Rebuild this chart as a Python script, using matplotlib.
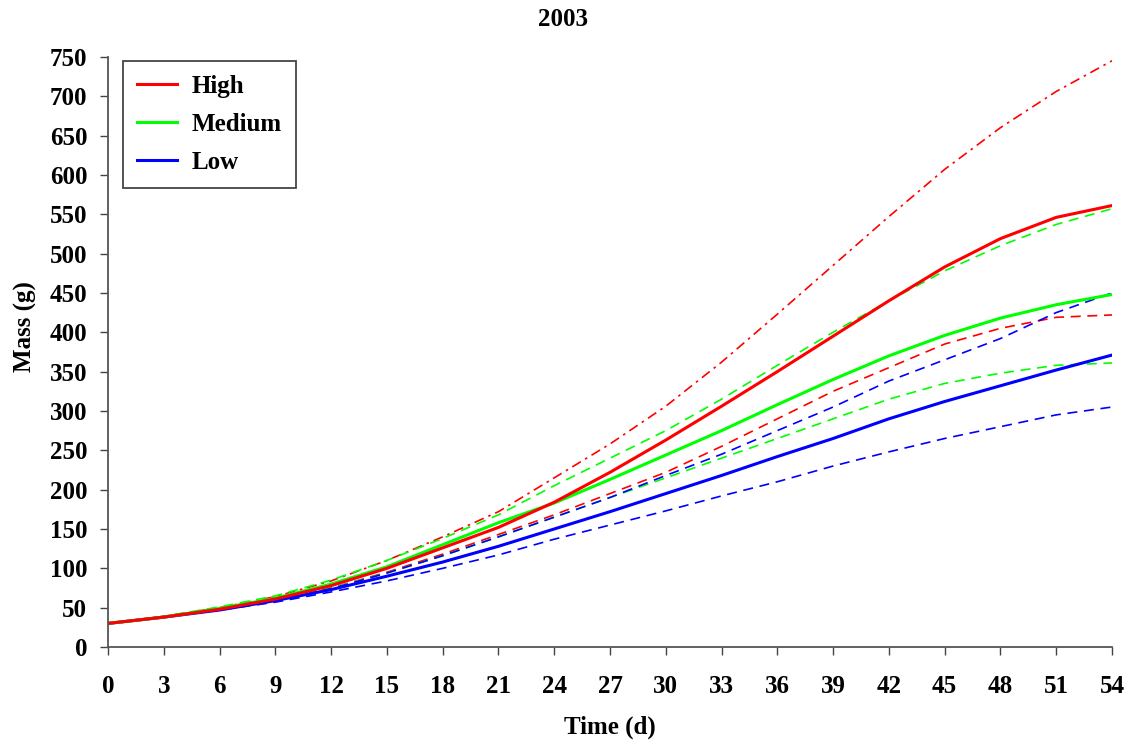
import numpy as np
import matplotlib.pyplot as plt

plt.rcParams['font.family'] = ['Liberation Serif', 'DejaVu Serif']
plt.rcParams['font.weight'] = 'bold'

days = [0, 3, 6, 9, 12, 15, 18, 21, 24, 27, 30, 33, 36, 39, 42, 45, 48, 51, 54]

# High
high = [30, 38, 48, 61, 78, 100, 126, 152, 184, 222, 263, 306, 350, 395, 440, 483, 519, 546, 561]
high_up = [30, 39, 50, 64, 84, 110, 140, 172, 215, 258, 306, 362, 423, 485, 547, 607, 660, 706, 745]
high_lo = [30, 38, 48, 60, 75, 95, 118, 143, 168, 195, 222, 255, 290, 325, 355, 385, 405, 419, 422]

# Medium
med = [30, 38, 49, 62, 80, 102, 130, 158, 183, 213, 244, 275, 308, 340, 370, 396, 418, 435, 448]
med_up = [30, 39, 51, 65, 85, 110, 138, 168, 205, 240, 275, 315, 358, 400, 440, 478, 510, 537, 557]
med_lo = [30, 38, 48, 60, 75, 94, 116, 140, 165, 190, 215, 240, 265, 290, 315, 335, 348, 358, 361]

# Low
low = [30, 38, 47, 59, 73, 90, 108, 128, 150, 172, 195, 218, 242, 265, 290, 312, 332, 352, 371]
low_up = [30, 38, 48, 59, 74, 94, 116, 140, 165, 190, 218, 245, 275, 305, 338, 365, 392, 425, 450]
low_lo = [30, 38, 47, 57, 70, 84, 100, 117, 137, 155, 173, 192, 210, 230, 248, 265, 280, 295, 305]

red = '#ff0000'
green = '#00ff00'
blue = '#0000ff'
dash = (0, (6, 4))
fs = 18

fig = plt.figure(figsize=(11.37, 7.48), dpi=100)
ax = fig.add_axes([0.095, 0.135, 0.883, 0.789])

# bandas (lineas discontinuas)
ax.plot(days, high_up, color=red, lw=1.2, linestyle=(0, (6, 3, 1.5, 3)))
ax.plot(days, high_lo, color=red, lw=1.2, linestyle=dash)
ax.plot(days, med_up, color=green, lw=1.2, linestyle=dash)
ax.plot(days, med_lo, color=green, lw=1.2, linestyle=dash)
ax.plot(days, low_up, color=blue, lw=1.2, linestyle=dash)
ax.plot(days, low_lo, color=blue, lw=1.2, linestyle=dash)

# medias
ax.plot(days, low, color=blue, lw=2.2, label='Low')
ax.plot(days, med, color=green, lw=2.2, label='Medium')
ax.plot(days, high, color=red, lw=2.2, label='High')

ax.set_xlim(0, 54)
ax.set_ylim(0, 750)
ax.set_xticks(np.arange(0, 55, 3))
ax.set_yticks(np.arange(0, 751, 50))

for s in ['top', 'right']:
    ax.spines[s].set_visible(False)
for s in ['left', 'bottom']:
    ax.spines[s].set_color('#555555')
    ax.spines[s].set_linewidth(1.3)

ax.tick_params(axis='both', direction='out', length=6, width=1, colors='#444444',
               labelcolor='black', labelsize=fs)
ax.tick_params(axis='x', pad=14)
ax.tick_params(axis='y', pad=9)
for lab in ax.get_xticklabels() + ax.get_yticklabels():
    lab.set_fontweight('bold')

fig.text(563 / 1137, 1 - 20 / 748, '2003', ha='center', va='center',
         fontsize=fs, fontweight='bold')
fig.text(610 / 1137, 1 - 727 / 748, 'Time (d)', ha='center', va='center',
         fontsize=fs, fontweight='bold')
fig.text(25 / 1137, 1 - 327 / 748, 'Mass (g)', ha='center', va='center',
         rotation=90, fontsize=fs, fontweight='bold')

h, l = ax.get_legend_handles_labels()
leg = fig.legend(h[::-1], l[::-1], loc='upper left',
                 bbox_to_anchor=(123 / 1137, 1 - 61 / 748), borderaxespad=0,
                 fancybox=False, framealpha=1, edgecolor='#444444',
                 prop={'size': fs, 'weight': 'bold'}, handlelength=1.6,
                 handletextpad=0.6, borderpad=0.55, labelspacing=0.6)
leg.get_frame().set_linewidth(1.3)

plt.savefig('out.png', dpi=100)
